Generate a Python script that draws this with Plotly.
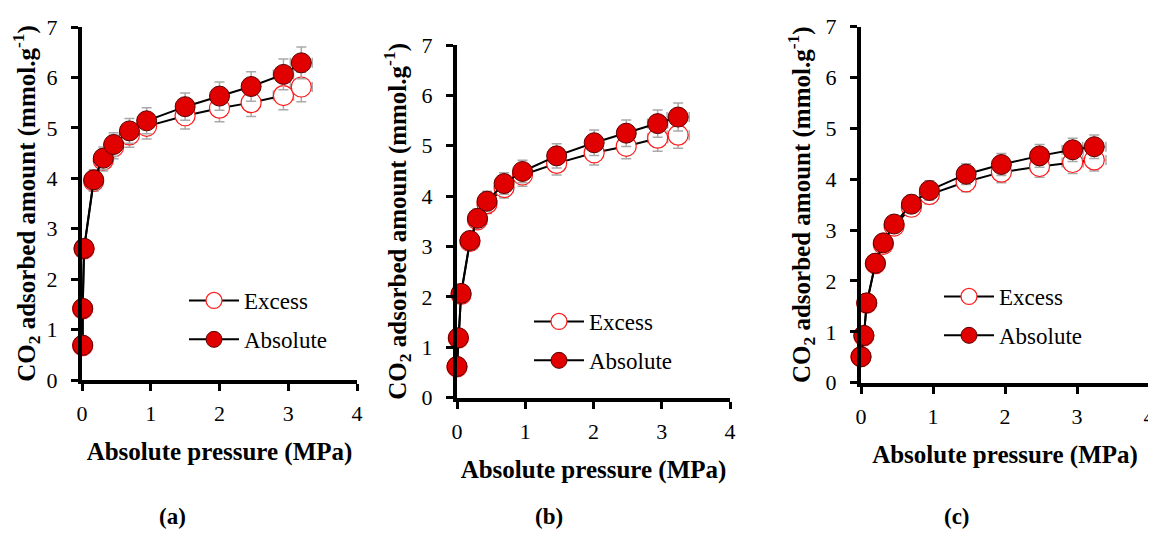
import plotly.graph_objects as go

# ---------------- data ----------------
p_a = [0.01, 0.01, 0.03, 0.17, 0.31, 0.46, 0.69, 0.94, 1.50, 2.00, 2.46, 2.93, 3.19]
exc_a = [0.68, 1.41, 2.60, 3.94, 4.36, 4.62, 4.86, 5.03, 5.24, 5.39, 5.50, 5.64, 5.81]
abs_a = [0.69, 1.42, 2.61, 3.97, 4.40, 4.67, 4.94, 5.14, 5.42, 5.63, 5.82, 6.06, 6.29]

p_b = [0.00, 0.02, 0.06, 0.19, 0.30, 0.44, 0.69, 0.96, 1.46, 2.01, 2.48, 2.94, 3.24]
exc_b = [0.61, 1.18, 2.05, 3.10, 3.53, 3.85, 4.17, 4.42, 4.65, 4.86, 4.99, 5.15, 5.21]
abs_b = [0.62, 1.19, 2.07, 3.12, 3.56, 3.90, 4.25, 4.49, 4.80, 5.06, 5.25, 5.44, 5.57]

p_c = [0.00, 0.04, 0.08, 0.20, 0.31, 0.46, 0.70, 0.95, 1.46, 1.95, 2.48, 2.94, 3.24]
exc_c = [0.51, 0.92, 1.56, 2.34, 2.72, 3.08, 3.45, 3.70, 3.95, 4.14, 4.25, 4.33, 4.38]
abs_c = [0.51, 0.93, 1.57, 2.35, 2.75, 3.12, 3.51, 3.78, 4.10, 4.29, 4.46, 4.58, 4.64]

series_names = ["Excess", "Absolute"]
panel_labels = ["(a)", "(b)", "(c)"]
x_ticks = [0, 1, 2, 3, 4]
y_ticks = [0, 1, 2, 3, 4, 5, 6, 7]
err_pct = 5

FONT = "Liberation Serif"
SCREEN_W, SCREEN_H = 1156, 554
OFF = 8  # default page body margin
W, H = SCREEN_W - OFF, SCREEN_H - OFF


def px(x):
    return (x - OFF) / W


def py(y):
    return 1 - (y - OFF) / H


panels = [
    dict(p=p_a, e=exc_a, a=abs_a, x0=82, x1=357, y0=380, y7=27,
         leg=(184, 279), lab=(172, 516)),
    dict(p=p_b, e=exc_b, a=abs_b, x0=457, x1=730, y0=397.7, y7=45,
         leg=(529, 300), lab=(549, 516)),
    dict(p=p_c, e=exc_c, a=abs_c, x0=861, x1=1149, y0=382.7, y7=26.7,
         leg=(939, 275), lab=(957, 516)),
]

fig = go.Figure()
layout = dict(
    template="none",
    width=W, height=H,
    margin=dict(l=0, r=0, t=0, b=0, autoexpand=False),
    paper_bgcolor="white", plot_bgcolor="white",
    font=dict(family=FONT, size=22, color="black"),
    annotations=[],
    showlegend=True,
)

err_style = dict(type="percent", value=err_pct, color="#a9a9a9", thickness=1.5, width=5)

for i, pn in enumerate(panels):
    k = "" if i == 0 else str(i + 1)
    legname = "legend" + k
    fig.add_trace(go.Scatter(
        x=pn["p"], y=pn["e"], name=series_names[0], mode="lines+markers",
        xaxis="x" + k, yaxis="y" + k, legend=legname, legendgroup="e" + k,
        line=dict(color="black", width=2),
        marker=dict(symbol="circle", size=20, color="white",
                    line=dict(color="#ff1a1a", width=1.2)),
        error_y=err_style, error_x=err_style, cliponaxis=False,
    ))
    fig.add_trace(go.Scatter(
        x=pn["p"], y=pn["a"], name=series_names[1], mode="lines+markers",
        xaxis="x" + k, yaxis="y" + k, legend=legname, legendgroup="a" + k,
        line=dict(color="black", width=2),
        marker=dict(symbol="circle", size=20, color="#e00000",
                    line=dict(color="#5a0000", width=1)),
        error_y=err_style, error_x=err_style, cliponaxis=False,
    ))
    axcommon = dict(showgrid=False, zeroline=False, showline=True, automargin=False,
                    linecolor="black", linewidth=4, ticks="outside",
                    ticklen=7, tickwidth=3, tickcolor="black",
                    tickfont=dict(family=FONT, size=22))
    layout["xaxis" + k] = dict(
        axcommon, domain=[px(pn["x0"]), px(pn["x1"])], range=[0, 4],
        tickvals=x_ticks, anchor="y" + k, ticklabelstandoff=4,
        title=dict(text="<b>Absolute pressure (MPa)</b>", standoff=18,
                   font=dict(family=FONT, size=25)),
    )
    layout["yaxis" + k] = dict(
        axcommon, domain=[py(pn["y0"]), py(pn["y7"])], range=[0, 7],
        tickvals=y_ticks, anchor="x" + k, ticklabelstandoff=9,
        title=dict(text="<b>CO<sub>2</sub> adsorbed amount (mmol.g<sup>-1</sup>)</b>",
                   standoff=9, font=dict(family=FONT, size=25)),
    )
    layout[legname] = dict(
        x=px(pn["leg"][0]), y=py(pn["leg"][1]), xanchor="left", yanchor="top",
        bgcolor="rgba(0,0,0,0)", font=dict(family=FONT, size=23),
        tracegroupgap=6, itemwidth=50,
    )
    layout["annotations"].append(dict(
        text="<b>" + panel_labels[i] + "</b>", x=px(pn["lab"][0]), y=py(pn["lab"][1]),
        xref="paper", yref="paper", showarrow=False,
        font=dict(family=FONT, size=23), xanchor="center", yanchor="middle",
    ))

fig.update_layout(**layout)
fig.write_html("out.html")
